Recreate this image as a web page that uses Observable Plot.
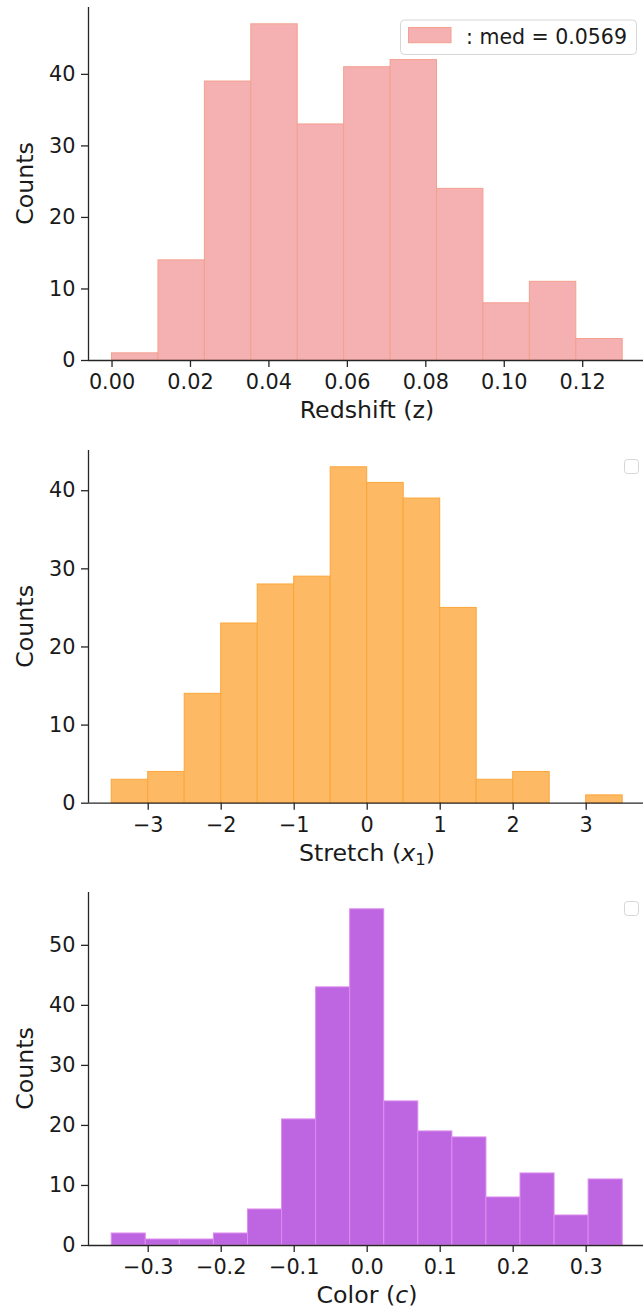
<!DOCTYPE html>
<html><head><meta charset="utf-8">
<script src="https://cdn.jsdelivr.net/npm/d3@7"></script>
<script src="https://cdn.jsdelivr.net/npm/@observablehq/plot@0.6"></script>
<style>
body{margin:0;background:#fff;}
#wrap{width:643px;}
#wrap svg{display:block;}
</style></head><body><div id="wrap"></div>
<script>
// ---- Panel 1: Redshift (z)
const zCounts = [1, 14, 39, 47, 33, 41, 42, 24, 8, 11, 3];
const zRange = [0, 0.1302];
const zTicks = [0, 0.02, 0.04, 0.06, 0.08, 0.10, 0.12];
const zMedian = 0.0569;
// ---- Panel 2: Stretch (x1)
const x1Counts = [3, 4, 14, 23, 28, 29, 43, 41, 39, 25, 3, 4, 0, 1];
const x1Range = [-3.5, 3.5];
const x1Ticks = [-3, -2, -1, 0, 1, 2, 3];
// ---- Panel 3: Color (c)
const cCounts = [2, 1, 1, 2, 6, 21, 43, 56, 24, 19, 18, 8, 12, 5, 11];
const cRange = [-0.35, 0.35];
const cTicks = [-0.3, -0.2, -0.1, 0, 0.1, 0.2, 0.3];
// count ticks
const countTicksA = [0, 10, 20, 30, 40];
const countTicksB = [0, 10, 20, 30, 40, 50];

const FONT = "DejaVu Sans";
const INK = "#1a1a1a";
const SPINE = "#262626";

function signed(f) {
  return d => (d < 0 ? "\u2212" + f(-d) : f(d));
}

function makeBins(counts, range) {
  const n = counts.length, w = (range[1] - range[0]) / n;
  return counts.map((c, i) => ({x1: range[0] + i * w, x2: range[0] + (i + 1) * w, count: c}));
}

function panel(o) {
  const bins = makeBins(o.counts, o.range);
  const svg = Plot.plot({
    width: 643, height: o.height,
    marginLeft: 88, marginRight: 0, marginTop: o.mt, marginBottom: o.mb,
    style: {fontFamily: FONT, fontSize: "20.8px", background: "white", color: INK},
    x: {domain: o.xDomain},
    y: {domain: [0, o.yMax]},
    marks: [
      Plot.rectY(bins, {x1: "x1", x2: "x2", y: "count", fill: o.fill, stroke: o.stroke, strokeWidth: 1, inset: 0}),
      Plot.axisX({ticks: o.xTicks, tickFormat: o.fmt, tickSize: 7, tickPadding: 7, label: null, stroke: SPINE, strokeWidth: 1.3, fontSize: 20.8}),
      Plot.axisY({ticks: o.yTicks, tickFormat: d3.format("d"), tickSize: 7, tickPadding: 6, label: null, stroke: SPINE, strokeWidth: 1.3, fontSize: 20.8}),
      Plot.ruleY([0], {stroke: SPINE, strokeWidth: 1.3}),
      Plot.ruleX([o.xDomain[0]], {stroke: SPINE, strokeWidth: 1.3})
    ]
  });
  const s = d3.select(svg);
  const yTop = o.mt, yBot = o.height - o.mb;
  // y label
  s.append("text")
    .attr("transform", `translate(33,${(yTop + yBot) / 2}) rotate(-90)`)
    .attr("text-anchor", "middle")
    .attr("font-family", FONT).attr("font-size", 23.7).attr("fill", INK)
    .text("Counts");
  // x label
  const t = s.append("text")
    .attr("x", 367).attr("y", yBot + 58)
    .attr("text-anchor", "middle")
    .attr("font-family", FONT).attr("font-size", 23.7).attr("fill", INK);
  o.xlabel(t);
  return svg;
}

const wrap = document.getElementById("wrap");

// Panel 1
const p1 = panel({
  counts: zCounts, range: zRange, xDomain: [-0.006, 0.1355],
  yMax: 49.35, yTicks: countTicksA, xTicks: zTicks, fmt: d3.format(".2f"),
  fill: "#f5b1b2", stroke: "#f3a08e", height: 440, mt: 7, mb: 80,
  xlabel: t => t.text("Redshift (z)")
});
{
  const s = d3.select(p1);
  const g = s.append("g");
  g.append("rect").attr("x", 400.5).attr("y", 20).attr("width", 236).attr("height", 34.5)
    .attr("rx", 4).attr("fill", "white").attr("fill-opacity", 0.8).attr("stroke", "#d6d6d6").attr("stroke-width", 1);
  g.append("rect").attr("x", 408.5).attr("y", 27.5).attr("width", 42.5).attr("height", 15.2)
    .attr("fill", "#f5b1b2").attr("stroke", "#f3a08e").attr("stroke-width", 1);
  g.append("text").attr("x", 466).attr("y", 43.5).attr("text-anchor", "start")
    .attr("font-family", FONT).attr("font-size", 20.5).attr("fill", INK)
    .text(": med = " + zMedian);
}
wrap.appendChild(p1);

// Panel 2
const p2 = panel({
  counts: x1Counts, range: x1Range, xDomain: [-3.818, 3.785],
  yMax: 45.15, yTicks: countTicksA, xTicks: x1Ticks, fmt: signed(d3.format("d")),
  fill: "#fdb964", stroke: "#fca63a", height: 440, mt: 10, mb: 77.3,
  xlabel: t => {
    t.append("tspan").text("Stretch (");
    t.append("tspan").attr("font-style", "italic").text("x");
    t.append("tspan").attr("font-size", 16.5).attr("dy", 4).text("1");
    t.append("tspan").attr("dy", -4).text(")");
  }
});
d3.select(p2).append("rect").attr("x", 624.5).attr("y", 19.5).attr("width", 14).attr("height", 14)
  .attr("rx", 3).attr("fill", "white").attr("stroke", "#d6d6d6").attr("stroke-width", 1);
wrap.appendChild(p2);

// Panel 3
const p3 = panel({
  counts: cCounts, range: cRange, xDomain: [-0.3818, 0.3785],
  yMax: 58.8, yTicks: countTicksB, xTicks: cTicks, fmt: signed(d3.format(".1f")),
  fill: "#be66e2", stroke: "#dc8ced", height: 435, mt: 12, mb: 70,
  xlabel: t => {
    t.append("tspan").text("Color (");
    t.append("tspan").attr("font-style", "italic").text("c");
    t.append("tspan").text(")");
  }
});
d3.select(p3).append("rect").attr("x", 624.5).attr("y", 21.5).attr("width", 14).attr("height", 14)
  .attr("rx", 3).attr("fill", "white").attr("stroke", "#d6d6d6").attr("stroke-width", 1);
wrap.appendChild(p3);
</script>
</body></html>
